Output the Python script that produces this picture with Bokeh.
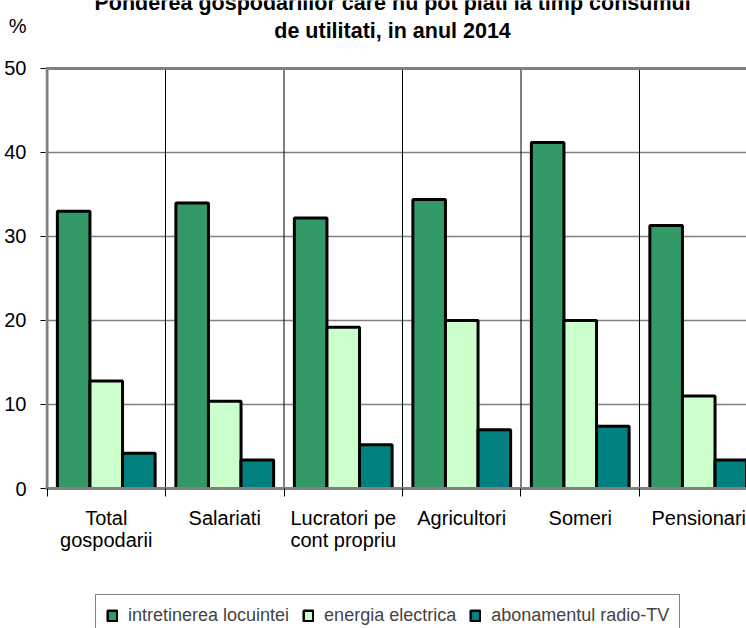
from bokeh.plotting import figure
from bokeh.layouts import column
from bokeh.models import (Range1d, FixedTicker, Span, Legend, LegendItem, Label,
                          ColumnDataSource)
from bokeh.embed import file_html
from bokeh.resources import INLINE

# ---- data ----
categories = ["Total\ngospodarii", "Salariati", "Lucratori pe\ncont propriu",
              "Agricultori", "Someri", "Pensionari"]
intretinerea = [33.0, 34.0, 32.2, 34.4, 41.2, 31.3]
energia = [12.8, 10.4, 19.2, 20.0, 20.0, 11.0]
abonament = [4.2, 3.4, 5.2, 7.0, 7.4, 3.4]
series_names = ["intretinerea locuintei", "energia electrica", "abonamentul radio-TV"]
y_ticks = [0, 10, 20, 30, 40, 50]
title_lines = ["Ponderea gospodariilor care nu pot plati la timp consumul",
               "de utilitati, in anul 2014"]
unit_label = "%"

colors = ["#339966", "#CCFFCC", "#008080"]
FONT = "Liberation Sans"

Y_TOP = 58.095     # frame reaches the top of the canvas (title area inside)
UNIT_Y = 55.1      # position of the "%" unit label on the value scale
X0 = -0.0127
p = figure(width=746, height=590, x_range=Range1d(X0, 5.903), y_range=Range1d(0, Y_TOP),
           output_backend="svg", toolbar_location=None, title=None,
           min_border_left=45, min_border_right=0, min_border_top=0,
           min_border_bottom=102)
p.background_fill_color = "white"
p.border_fill_color = "white"
p.outline_line_color = None

ncat = len(categories)
centers = [i + 0.5 for i in range(ncat)]
bounds_x = list(range(ncat + 1))
bw = 0.275
offsets = [-bw, 0.0, bw]

# grid lines
p.ygrid.ticker = FixedTicker(ticks=y_ticks)
p.ygrid.grid_line_color = "#808080"
p.ygrid.grid_line_width = 1.5
p.xgrid.grid_line_color = None
p.segment(x0=bounds_x[1:-1], y0=[y_ticks[0]] * (ncat - 1), x1=bounds_x[1:-1],
          y1=[y_ticks[-1]] * (ncat - 1), line_color="black", line_width=1)
p.add_layout(Span(location=y_ticks[-1], dimension="width", line_color="#808080", line_width=3))
# left axis line (0..50)
p.segment(x0=[0], y0=[y_ticks[0]], x1=[0], y1=[y_ticks[-1]], line_color="#808080", line_width=3)

sources = []
for vals, off, col in zip([intretinerea, energia, abonament], offsets, colors):
    src = ColumnDataSource(dict(x=[c + off for c in centers], top=vals))
    sources.append(src)
    p.vbar(x="x", top="top", bottom=0, width=bw, source=src,
           fill_color=col, line_color="black", line_width=3)

# x axis
xa = p.xaxis[0]
xa.ticker = FixedTicker(ticks=centers, minor_ticks=bounds_x)
xa.major_label_overrides = {c: lab for c, lab in zip(centers, categories)}
xa.major_tick_line_color = None
xa.major_tick_out = 0
xa.major_tick_in = 0
xa.minor_tick_out = 8
xa.minor_tick_in = 0
xa.minor_tick_line_color = "black"
xa.minor_tick_line_width = 1
xa.axis_line_color = "#808080"
xa.axis_line_width = 3
xa.major_label_text_font = FONT
xa.major_label_text_font_size = "20px"
xa.major_label_text_color = "black"
xa.major_label_text_line_height = 1.0
xa.major_label_standoff = 10

# y axis (unit "%" is shown as the top label of the value axis)
ya = p.yaxis[0]
ya.ticker = FixedTicker(ticks=y_ticks + [UNIT_Y], minor_ticks=y_ticks)
ya.major_label_overrides = {UNIT_Y: unit_label}
ya.major_tick_line_color = None
ya.major_tick_out = 0
ya.major_tick_in = 0
ya.minor_tick_out = 5
ya.minor_tick_in = 0
ya.minor_tick_line_color = "black"
ya.axis_line_color = None
ya.major_label_text_font = FONT
ya.major_label_text_font_size = "20px"
ya.major_label_text_color = "black"
ya.major_label_standoff = 14

# title (first line runs off the top of the picture, as in the reference)
for txt, yb in zip(title_lines, [57.74, 54.52]):
    p.add_layout(Label(x=2.916, y=yb, text=txt, text_align="center",
                       text_baseline="alphabetic", text_font=FONT, text_font_style="bold",
                       text_font_size="21.5px", text_color="black"))

# legend strip (separate small figure below the chart; its renderers are hidden)
q = figure(width=746, height=38, x_range=Range1d(0, 1), y_range=Range1d(0, 1),
           output_backend="svg", toolbar_location=None, title=None,
           x_axis_type=None, y_axis_type=None, min_border=0)
q.grid.visible = False
q.outline_line_color = None
q.background_fill_color = "white"
q.border_fill_color = "white"
items = []
for name, col, src in zip(series_names, colors, sources):
    r = q.vbar(x="x", top="top", bottom=0, width=bw, source=src,
               fill_color=col, line_color="black", line_width=2.5, visible=False)
    items.append(LegendItem(label=name, renderers=[r]))
legend = Legend(items=items, orientation="horizontal", location=(50, -9),
                border_line_color="black", border_line_width=1,
                label_text_font=FONT, label_text_font_size="18px",
                glyph_width=12, glyph_height=13, label_standoff=10,
                spacing=13, padding=10, margin=0, background_fill_color="white",
                inactive_fill_alpha=0.0, click_policy="none")
q.add_layout(legend)

page = column(p, q, spacing=0)
open("out.html", "w").write(file_html(page, INLINE))
